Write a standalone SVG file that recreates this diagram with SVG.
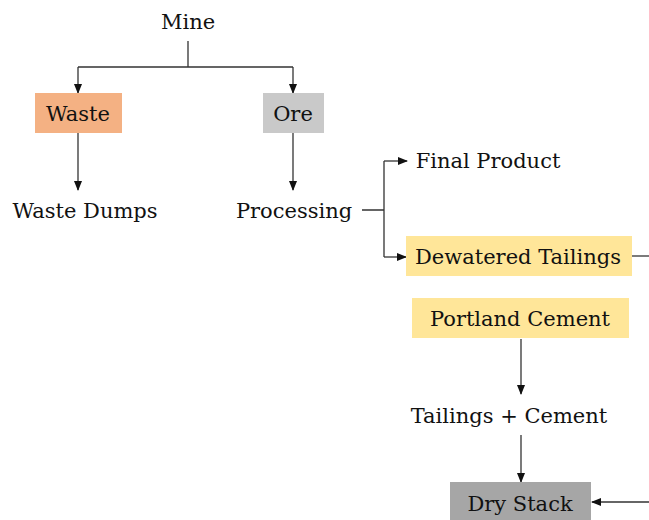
<svg xmlns="http://www.w3.org/2000/svg" width="649" height="520" viewBox="0 0 649 520">
<style>
text{font-family:"DejaVu Serif","Liberation Serif",serif;font-size:21px;fill:#111;text-anchor:middle}
.c{fill:none;stroke:#333;stroke-width:1.3}
</style>
<defs>
<marker id="ah" markerWidth="10" markerHeight="10" refX="9" refY="5" orient="auto" markerUnits="userSpaceOnUse">
<path d="M0,1 L10,5 L0,9 Z" fill="#111"/>
</marker>
</defs>
<rect width="649" height="520" fill="#fff"/>
<g id="connectors">
<path class="c" d="M188,41 V67 M78,67 H293"/>
<path class="c" d="M78,67 V93" marker-end="url(#ah)"/>
<path class="c" d="M293,67 V93" marker-end="url(#ah)"/>
<path class="c" d="M78,133 V190" marker-end="url(#ah)"/>
<path class="c" d="M293,133 V190" marker-end="url(#ah)"/>
<path class="c" d="M362,210 H384 M384,161 V257"/>
<path class="c" d="M384,161 H407" marker-end="url(#ah)"/>
<path class="c" d="M384,257 H406" marker-end="url(#ah)"/>
<path class="c" d="M632,256 H649"/>
<path class="c" d="M521,339 V394" marker-end="url(#ah)"/>
<path class="c" d="M521,435 V482" marker-end="url(#ah)"/>
<path class="c" d="M649,502 H592" marker-end="url(#ah)"/>
</g>
<g id="mine"><text x="188" y="29">Mine</text></g>
<g id="waste"><rect x="35" y="93" width="87" height="40" fill="#F4B183"/><text x="78" y="121">Waste</text></g>
<g id="ore"><rect x="263" y="93" width="61" height="40" fill="#C9C9C9"/><text x="293" y="121">Ore</text></g>
<g id="waste-dumps"><text x="85" y="218">Waste Dumps</text></g>
<g id="processing"><text x="294" y="218">Processing</text></g>
<g id="final-product"><text x="488" y="168">Final Product</text></g>
<g id="dewatered-tailings"><rect x="406" y="236" width="226" height="40" fill="#FFE699"/><text x="518" y="264">Dewatered Tailings</text></g>
<g id="portland-cement"><rect x="412" y="298" width="217" height="40" fill="#FFE699"/><text x="520" y="326">Portland Cement</text></g>
<g id="tailings-cement"><text x="509" y="423">Tailings + Cement</text></g>
<g id="dry-stack"><rect x="450" y="482" width="141" height="45" fill="#A6A6A6"/><text x="520" y="511">Dry Stack</text></g>
</svg>
